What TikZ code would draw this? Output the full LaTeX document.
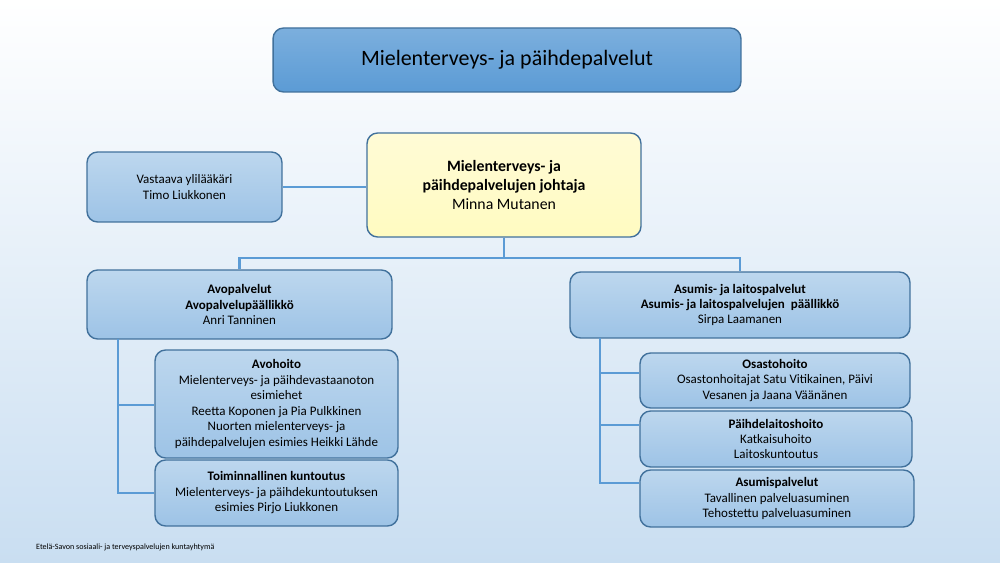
\documentclass[tikz,border=0pt]{standalone}
\usepackage{fontspec}
\setmainfont{Carlito}
\usetikzlibrary{positioning}
\definecolor{boxblue}{HTML}{9DC3E6}
\definecolor{boxtop}{HTML}{BDD7EE}
\definecolor{boxline}{HTML}{41719C}
\definecolor{linkblue}{HTML}{5B9BD5}
\definecolor{bossfill}{HTML}{FFFBD6}
\tikzstyle{unit} = [rectangle, rounded corners=6pt, draw=boxline, thick, top color=boxtop, bottom color=boxblue, align=center, font=\fontsize{7.4}{8.8}\selectfont, inner sep=0pt]
\tikzstyle{boss} = [unit, top color=bossfill, bottom color=bossfill!90!yellow, font=\fontsize{9}{10.6}\selectfont]
\tikzstyle{link} = [linkblue, line width=1.2pt]

\begin{document}
\begin{tikzpicture}[x=0.02cm, y=-0.02cm]
\shade[top color=white, bottom color=boxblue!55] (0,0) rectangle (1000,563);
\useasboundingbox (0,0) rectangle (1000,563);

\node (title) [unit, top color=linkblue!80, bottom color=linkblue, minimum width=9.36cm, minimum height=1.28cm, font=\fontsize{12.5}{14}\selectfont] at (507,60) {Mielenterveys- ja päihdepalvelut};
\node (chief) [boss, minimum width=5.48cm, minimum height=2.08cm] at (504,185) {\textbf{Mielenterveys- ja}\\\textbf{päihdepalvelujen johtaja}\\Minna Mutanen};
\node (doctor) [unit, minimum width=3.9cm, minimum height=1.4cm] at (184.5,187) {Vastaava ylilääkäri\\Timo Liukkonen};

\node (open) [unit, minimum width=6.1cm, minimum height=1.38cm] at (239.5,304.5) {\textbf{Avopalvelut}\\\textbf{Avopalvelupäällikkö}\\Anri Tanninen};
\node (house) [unit, minimum width=6.8cm, minimum height=1.32cm] at (740,305) {\textbf{Asumis- ja laitospalvelut}\\\textbf{Asumis- ja laitospalvelujen\ \ päällikkö}\\Sirpa Laamanen};

\node (avo) [unit, minimum width=4.86cm, minimum height=2.16cm] at (276.5,404) {\textbf{Avohoito}\\Mielenterveys- ja päihdevastaanoton\\esimiehet\\Reetta Koponen ja Pia Pulkkinen\\Nuorten mielenterveys- ja\\päihdepalvelujen esimies Heikki Lähde};
\node (rehab) [unit, minimum width=4.86cm, minimum height=1.32cm] at (276.5,493) {\textbf{Toiminnallinen kuntoutus}\\Mielenterveys- ja päihdekuntoutuksen\\esimies Pirjo Liukkonen};

\node (ward) [unit, minimum width=5.4cm, minimum height=1.1cm] at (775,380.5) {\textbf{Osastohoito}\\Osastonhoitajat Satu Vitikainen, Päivi\\Vesanen ja Jaana Väänänen};
\node (inst) [unit, minimum width=5.44cm, minimum height=1.12cm] at (776,439) {\textbf{Päihdelaitoshoito}\\Katkaisuhoito\\Laitoskuntoutus};
\node (living) [unit, minimum width=5.48cm, minimum height=1.14cm] at (777,498.5) {\textbf{Asumispalvelut}\\Tavallinen palveluasuminen\\Tehostettu palveluasuminen};

\coordinate (fork) at (504,258);
\draw [link] (doctor.east) -- (doctor.east -| chief.west);
\draw [link] (chief) -- (fork);
\draw [link] (fork) -| (open);
\draw [link] (fork) -| (house);
\draw [link] (118,339) |- (rehab);
\draw [link] (118,405) -- (avo.west |- 0,405);
\draw [link] (600,338) |- (living.west |- 0,483);
\draw [link] (600,373) -- (ward.west |- 0,373);
\draw [link] (600,425) -- (inst.west |- 0,425);

\node [anchor=west, font=\fontsize{4.6}{5}\selectfont] at (30,547) {Etelä-Savon sosiaali- ja terveyspalvelujen kuntayhtymä};
\end{tikzpicture}
\end{document}
